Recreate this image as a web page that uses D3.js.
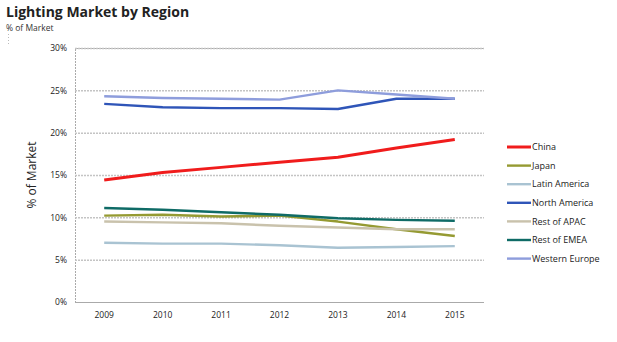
<!DOCTYPE html>
<html>
<head>
<meta charset="utf-8">
<script src="https://cdnjs.cloudflare.com/ajax/libs/d3/7.8.5/d3.min.js"></script>
<style>
	body { margin: 0; background: #ffffff; }
	svg { display: block; font-family: "Open Sans", "Liberation Sans", sans-serif; }
</style>
</head>
<body>
<div id="chart"></div>
<script>
"use strict";

// years along the x axis
var years = ["2009", "2010", "2011", "2012", "2013", "2014", "2015"];

// share of market per region, in %
var china         = [14.4, 15.3, 15.9, 16.5, 17.1, 18.2, 19.2];
var japan         = [10.2, 10.3, 10.1, 10.2, 9.5, 8.6, 7.8];
var latinAmerica  = [7.0, 6.9, 6.9, 6.7, 6.4, 6.5, 6.6];
var northAmerica  = [23.4, 23.0, 22.9, 22.9, 22.8, 24.0, 24.0];
var restOfApac    = [9.5, 9.4, 9.3, 9.0, 8.8, 8.6, 8.6];
var restOfEmea    = [11.1, 10.9, 10.6, 10.3, 9.9, 9.7, 9.6];
var westernEurope = [24.3, 24.1, 24.0, 23.9, 25.0, 24.5, 24.0];

var regionNames = ["China", "Japan", "Latin America", "North America", "Rest of APAC", "Rest of EMEA", "Western Europe"];
var regionValues = [china, japan, latinAmerica, northAmerica, restOfApac, restOfEmea, westernEurope];
var regionColors = ["#f01c1c", "#959a32", "#a9c3d2", "#2f55b8", "#c9c2ac", "#0f6b66", "#8e9ddc"];

var yTicks = [0, 5, 10, 15, 20, 25, 30];

// =============== LAYOUT ===============
var width = 617,
	height = 342,
	plotLeft = 75,
	plotRight = 484,
	plotTop = 48,
	plotBottom = 302;

var svg = d3.select("#chart").append("svg")
	.attr("width", width)
	.attr("height", height);

var x = d3.scaleBand()
	.domain(years)
	.range([plotLeft, plotRight]);

var y = d3.scaleLinear()
	.domain([0, 30])
	.range([plotBottom, plotTop]);

// title block
svg.append("text")
	.attr("x", 6)
	.attr("y", 17)
	.style("font-size", "14px")
	.style("font-weight", "bold")
	.style("fill", "#222")
	.text("Lighting Market by Region");

svg.append("text")
	.attr("x", 6)
	.attr("y", 31)
	.style("font-size", "8.5px")
	.style("fill", "#333")
	.text("% of Market");

svg.append("line")
	.attr("x1", 8.5).attr("x2", 8.5)
	.attr("y1", 34).attr("y2", 46)
	.style("stroke", "#bbb")
	.style("stroke-width", 1)
	.style("stroke-dasharray", "1,2");

// gridlines and y labels
var yAxis = d3.axisLeft(y)
	.tickValues(yTicks)
	.tickSize(-(plotRight - plotLeft))
	.tickPadding(8)
	.tickFormat(function(d){ return d + "%"; });

var yG = svg.append("g")
	.attr("transform", "translate(" + plotLeft + ",0)")
	.call(yAxis);
yG.select(".domain")
	.attr("stroke", "#aaa")
	.attr("stroke-dasharray", "2,1");
yG.selectAll(".tick line")
	.attr("stroke", function(d){ return d === 0 ? "#aaa" : "#c4c4c4"; })
	.attr("stroke-width", function(d){ return d === 0 ? 1 : 1.5; })
	.attr("stroke-dasharray", "2,1");
yG.selectAll(".tick text")
	.style("font-size", "8.5px")
	.style("fill", "#222")
	.style("font-family", "'Open Sans', sans-serif");

// x labels
var xAxis = d3.axisBottom(x).tickSize(0).tickPadding(10);
var xG = svg.append("g")
	.attr("transform", "translate(0," + plotBottom + ")")
	.call(xAxis);
xG.select(".domain").remove();
xG.selectAll(".tick text")
	.style("font-size", "8.5px")
	.style("fill", "#222")
	.style("font-family", "'Open Sans', sans-serif");

// rotated axis title
svg.append("text")
	.attr("transform", "translate(36," + ((plotTop + plotBottom) / 2) + ") rotate(-90)")
	.attr("text-anchor", "middle")
	.style("font-size", "12px")
	.style("fill", "#222")
	.text("% of Market");

// series lines
var line = d3.line()
	.x(function(d, i){ return x(years[i]) + x.bandwidth() / 2; })
	.y(function(d){ return y(d); });

svg.append("g").selectAll("path")
	.data(regionValues)
	.enter().append("path")
	.attr("d", line)
	.attr("fill", "none")
	.attr("stroke", function(d, i){ return regionColors[i]; })
	.attr("stroke-width", function(d, i){ return i === 0 ? 3 : 2.4; })
	.attr("stroke-linejoin", "round");

// legend
var legend = svg.append("g")
	.attr("transform", "translate(507,147)");

var legendRows = legend.selectAll("g")
	.data(regionNames)
	.enter().append("g")
	.attr("transform", function(d, i){ return "translate(0," + (i * 18.6) + ")"; });

legendRows.append("line")
	.attr("x1", 0).attr("x2", 24)
	.attr("y1", 0).attr("y2", 0)
	.attr("stroke", function(d, i){ return regionColors[i]; })
	.attr("stroke-width", function(d, i){ return i === 0 ? 3 : 2.4; });

legendRows.append("text")
	.attr("x", 25)
	.attr("y", 3.2)
	.style("font-size", "9px")
	.style("fill", "#222")
	.text(function(d){ return d; });
</script>
</body>
</html>
